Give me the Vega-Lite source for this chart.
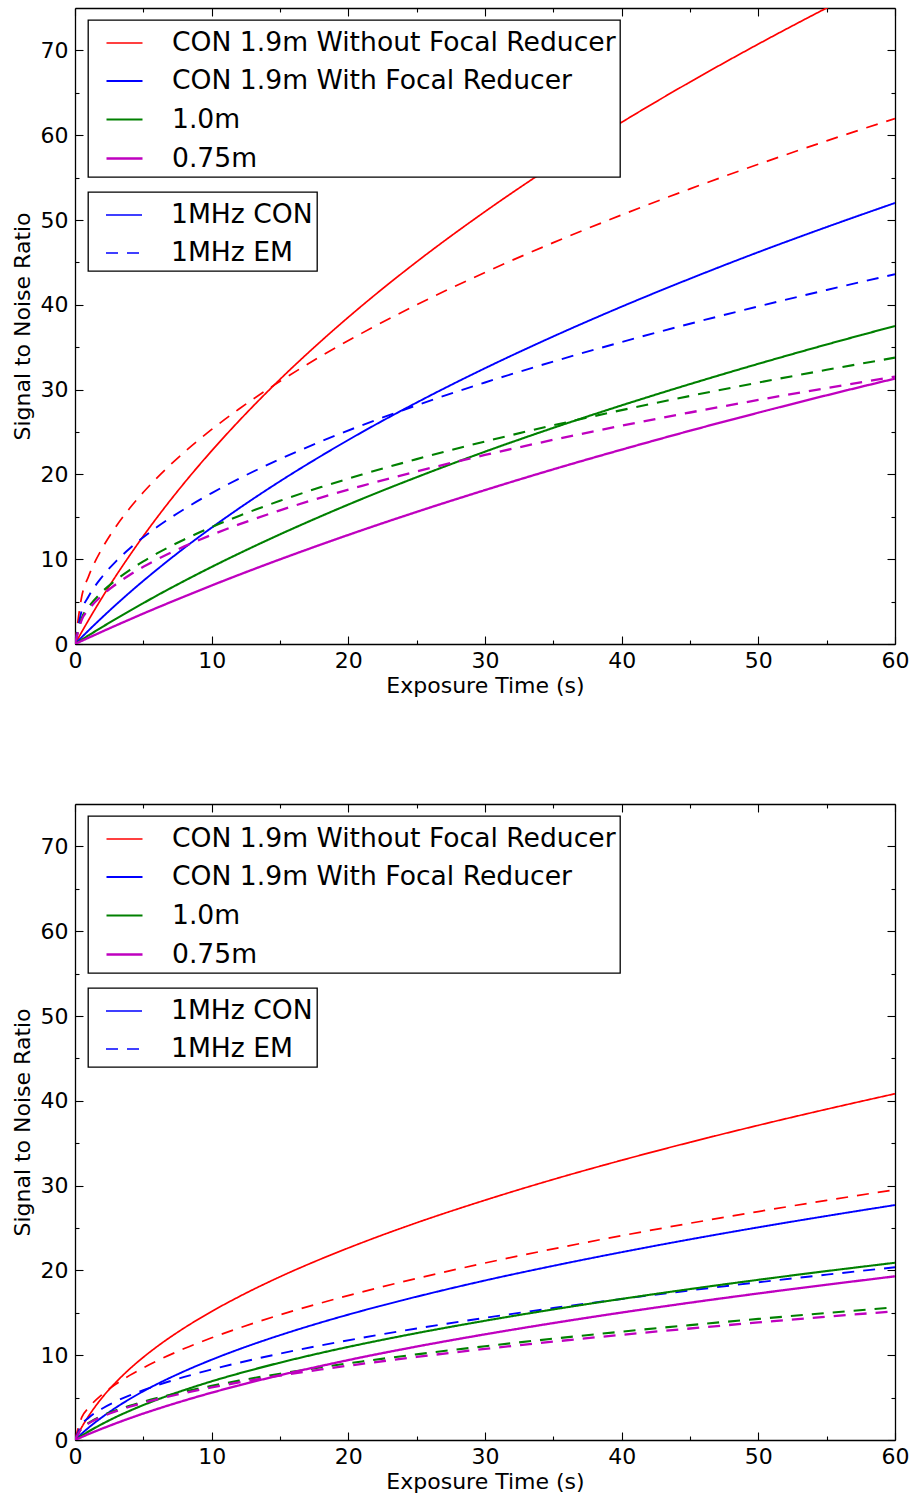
{
  "$schema": "https://vega.github.io/schema/vega-lite/v6.json",
  "autosize": {"type": "pad"},
  "padding": {"left": 11, "top": 7, "right": 17, "bottom": 5},
  "background": "#ffffff",
  "bounds": "flush",
  "spacing": 160,
  "datasets": {
    "series": [
      {"k": "rc", "tel": "CON 1.9m Without Focal Reducer", "mode": "1MHz CON"},
      {"k": "re", "tel": "CON 1.9m Without Focal Reducer", "mode": "1MHz EM"},
      {"k": "bc", "tel": "CON 1.9m With Focal Reducer", "mode": "1MHz CON"},
      {"k": "be", "tel": "CON 1.9m With Focal Reducer", "mode": "1MHz EM"},
      {"k": "gc", "tel": "1.0m", "mode": "1MHz CON"},
      {"k": "ge", "tel": "1.0m", "mode": "1MHz EM"},
      {"k": "mc", "tel": "0.75m", "mode": "1MHz CON"},
      {"k": "me", "tel": "0.75m", "mode": "1MHz EM"}
    ],
    "snr": [
      {"p": "top", "t": 0, "rc": 0, "re": 0, "bc": 0, "be": 0, "gc": 0, "ge": 0, "mc": 0, "me": 0},
      {"p": "top", "t": 0.5, "rc": 1.44, "re": 5.66, "bc": 0.81, "be": 3.98, "gc": 0.51, "ge": 3.08, "mc": 0.37, "me": 2.88},
      {"p": "top", "t": 1, "rc": 2.84, "re": 8.0, "bc": 1.61, "be": 5.63, "gc": 1.02, "ge": 4.36, "mc": 0.74, "me": 4.07},
      {"p": "top", "t": 2, "rc": 5.52, "re": 11.31, "bc": 3.15, "be": 7.96, "gc": 2.01, "ge": 6.17, "mc": 1.47, "me": 5.76},
      {"p": "top", "t": 3, "rc": 8.05, "re": 13.86, "bc": 4.64, "be": 9.75, "gc": 2.97, "ge": 7.55, "mc": 2.19, "me": 7.05},
      {"p": "top", "t": 4, "rc": 10.44, "re": 16.0, "bc": 6.07, "be": 11.26, "gc": 3.91, "ge": 8.72, "mc": 2.89, "me": 8.14},
      {"p": "top", "t": 5, "rc": 12.73, "re": 17.89, "bc": 7.45, "be": 12.59, "gc": 4.82, "ge": 9.75, "mc": 3.59, "me": 9.1},
      {"p": "top", "t": 6, "rc": 14.91, "re": 19.6, "bc": 8.78, "be": 13.79, "gc": 5.72, "ge": 10.68, "mc": 4.27, "me": 9.97},
      {"p": "top", "t": 8, "rc": 19.0, "re": 22.63, "bc": 11.33, "be": 15.92, "gc": 7.44, "ge": 12.33, "mc": 5.6, "me": 11.51},
      {"p": "top", "t": 10, "rc": 22.78, "re": 25.3, "bc": 13.72, "be": 17.8, "gc": 9.09, "ge": 13.79, "mc": 6.9, "me": 12.87},
      {"p": "top", "t": 12, "rc": 26.31, "re": 27.71, "bc": 15.99, "be": 19.5, "gc": 10.67, "ge": 15.1, "mc": 8.16, "me": 14.1},
      {"p": "top", "t": 15, "rc": 31.21, "re": 30.98, "bc": 19.19, "be": 21.8, "gc": 12.93, "ge": 16.89, "mc": 9.98, "me": 15.76},
      {"p": "top", "t": 18, "rc": 35.71, "re": 33.94, "bc": 22.17, "be": 23.89, "gc": 15.07, "ge": 18.5, "mc": 11.73, "me": 17.27},
      {"p": "top", "t": 21, "rc": 39.9, "re": 36.66, "bc": 24.98, "be": 25.8, "gc": 17.11, "ge": 19.98, "mc": 13.42, "me": 18.65},
      {"p": "top", "t": 25, "rc": 45.07, "re": 40.0, "bc": 28.47, "be": 28.15, "gc": 19.67, "ge": 21.8, "mc": 15.58, "me": 20.35},
      {"p": "top", "t": 30, "rc": 50.99, "re": 43.82, "bc": 32.52, "be": 30.84, "gc": 22.68, "ge": 23.88, "mc": 18.15, "me": 22.29},
      {"p": "top", "t": 35, "rc": 56.45, "re": 47.33, "bc": 36.27, "be": 33.31, "gc": 25.49, "ge": 25.79, "mc": 20.6, "me": 24.08},
      {"p": "top", "t": 40, "rc": 61.52, "re": 50.6, "bc": 39.78, "be": 35.61, "gc": 28.14, "ge": 27.58, "mc": 22.92, "me": 25.74},
      {"p": "top", "t": 45, "rc": 66.27, "re": 53.67, "bc": 43.08, "be": 37.77, "gc": 30.65, "ge": 29.25, "mc": 25.15, "me": 27.3},
      {"p": "top", "t": 50, "rc": 70.75, "re": 56.57, "bc": 46.21, "be": 39.81, "gc": 33.04, "ge": 30.83, "mc": 27.28, "me": 28.78},
      {"p": "top", "t": 55, "rc": 75.0, "re": 59.33, "bc": 49.17, "be": 41.75, "gc": 35.32, "ge": 32.33, "mc": 29.33, "me": 30.18},
      {"p": "top", "t": 60, "rc": 79.04, "re": 61.97, "bc": 52.01, "be": 43.61, "gc": 37.5, "ge": 33.77, "mc": 31.3, "me": 31.53},
      {"p": "bottom", "t": 0, "rc": 0, "re": 0, "bc": 0, "be": 0, "gc": 0, "ge": 0, "mc": 0, "me": 0},
      {"p": "bottom", "t": 0.5, "rc": 1.53, "re": 2.69, "bc": 0.76, "be": 1.86, "gc": 0.52, "ge": 1.43, "mc": 0.35, "me": 1.39},
      {"p": "bottom", "t": 1, "rc": 2.83, "re": 3.81, "bc": 1.46, "be": 2.63, "gc": 1.01, "ge": 2.02, "mc": 0.7, "me": 1.96},
      {"p": "bottom", "t": 2, "rc": 5.02, "re": 5.39, "bc": 2.71, "be": 3.72, "gc": 1.9, "ge": 2.86, "mc": 1.35, "me": 2.77},
      {"p": "bottom", "t": 3, "rc": 6.82, "re": 6.6, "bc": 3.83, "be": 4.56, "gc": 2.71, "ge": 3.5, "mc": 1.97, "me": 3.39},
      {"p": "bottom", "t": 4, "rc": 8.38, "re": 7.62, "bc": 4.83, "be": 5.26, "gc": 3.44, "ge": 4.04, "mc": 2.56, "me": 3.92},
      {"p": "bottom", "t": 5, "rc": 9.76, "re": 8.52, "bc": 5.75, "be": 5.88, "gc": 4.12, "ge": 4.52, "mc": 3.12, "me": 4.38},
      {"p": "bottom", "t": 6, "rc": 11.01, "re": 9.33, "bc": 6.59, "be": 6.44, "gc": 4.75, "ge": 4.95, "mc": 3.65, "me": 4.8},
      {"p": "bottom", "t": 8, "rc": 13.22, "re": 10.78, "bc": 8.11, "be": 7.44, "gc": 5.89, "ge": 5.71, "mc": 4.65, "me": 5.54},
      {"p": "bottom", "t": 10, "rc": 15.16, "re": 12.05, "bc": 9.47, "be": 8.32, "gc": 6.92, "ge": 6.39, "mc": 5.58, "me": 6.2},
      {"p": "bottom", "t": 12, "rc": 16.9, "re": 13.2, "bc": 10.7, "be": 9.11, "gc": 7.85, "ge": 7.0, "mc": 6.44, "me": 6.79},
      {"p": "bottom", "t": 15, "rc": 19.25, "re": 14.76, "bc": 12.36, "be": 10.19, "gc": 9.12, "ge": 7.82, "mc": 7.64, "me": 7.59},
      {"p": "bottom", "t": 18, "rc": 21.35, "re": 16.16, "bc": 13.86, "be": 11.16, "gc": 10.27, "ge": 8.57, "mc": 8.73, "me": 8.32},
      {"p": "bottom", "t": 21, "rc": 23.27, "re": 17.46, "bc": 15.23, "be": 12.05, "gc": 11.32, "ge": 9.26, "mc": 9.76, "me": 8.98},
      {"p": "bottom", "t": 25, "rc": 25.62, "re": 19.05, "bc": 16.9, "be": 13.15, "gc": 12.6, "ge": 10.1, "mc": 11.02, "me": 9.8},
      {"p": "bottom", "t": 30, "rc": 28.28, "re": 20.87, "bc": 18.81, "be": 14.4, "gc": 14.06, "ge": 11.06, "mc": 12.46, "me": 10.74},
      {"p": "bottom", "t": 35, "rc": 30.73, "re": 22.54, "bc": 20.54, "be": 15.56, "gc": 15.4, "ge": 11.95, "mc": 13.79, "me": 11.6},
      {"p": "bottom", "t": 40, "rc": 32.99, "re": 24.1, "bc": 22.15, "be": 16.63, "gc": 16.64, "ge": 12.78, "mc": 15.03, "me": 12.4},
      {"p": "bottom", "t": 45, "rc": 35.11, "re": 25.56, "bc": 23.66, "be": 17.64, "gc": 17.8, "ge": 13.55, "mc": 16.19, "me": 13.15},
      {"p": "bottom", "t": 50, "rc": 37.11, "re": 26.94, "bc": 25.08, "be": 18.6, "gc": 18.89, "ge": 14.28, "mc": 17.28, "me": 13.86},
      {"p": "bottom", "t": 55, "rc": 39.01, "re": 28.26, "bc": 26.42, "be": 19.5, "gc": 19.92, "ge": 14.98, "mc": 18.31, "me": 14.54},
      {"p": "bottom", "t": 60, "rc": 40.83, "re": 29.51, "bc": 27.71, "be": 20.37, "gc": 20.9, "ge": 15.65, "mc": 19.3, "me": 15.18}
    ]
  },
  "vconcat": [
    {
      "width": 820,
      "height": 636,
      "data": {"name": "snr"},
      "transform": [
        {"filter": {"field": "p", "equal": "top"}},
        {"fold": ["rc", "re", "bc", "be", "gc", "ge", "mc", "me"], "as": ["k", "v"]},
        {"lookup": "k", "from": {"data": {"name": "series"}, "key": "k", "fields": ["tel", "mode"]}}
      ],
      "layer": [
        {
          "mark": {"type": "line", "clip": true, "interpolate": "monotone"},
          "encoding": {
            "x": {"field": "t", "type": "quantitative", "scale": {"domain": [0, 60], "nice": false},
              "axis": {"orient": "bottom", "title": "Exposure Time (s)", "values": [0, 5, 10, 15, 20, 25, 30, 35, 40, 45, 50, 55, 60],
                "labelExpr": "datum.value % 10 === 0 ? datum.label : ''",
                "tickSize": {"condition": {"test": "datum.value % 10 === 0", "value": -8}, "value": -4},
                "labelPadding": 14, "titlePadding": 0}},
            "y": {"field": "v", "type": "quantitative", "scale": {"domain": [0, 75], "nice": false},
              "axis": {"orient": "left", "title": "Signal to Noise Ratio", "values": [0, 5, 10, 15, 20, 25, 30, 35, 40, 45, 50, 55, 60, 65, 70],
                "labelExpr": "datum.value % 10 === 0 ? datum.label : ''",
                "tickSize": {"condition": {"test": "datum.value % 10 === 0", "value": -8}, "value": -4},
                "labelPadding": 15, "titlePadding": 6}},
            "color": {"field": "tel", "type": "nominal",
              "scale": {"domain": ["CON 1.9m Without Focal Reducer", "CON 1.9m With Focal Reducer", "1.0m", "0.75m"], "range": ["#ff0000", "#0000ff", "#008000", "#bf00bf"]},
              "legend": {"title": null, "orient": "none", "legendX": 13, "legendY": 12}},
            "strokeDash": {"field": "mode", "type": "nominal",
              "scale": {"domain": ["1MHz CON", "1MHz EM"], "range": [[1, 0], [12, 9]]},
              "legend": {"title": null, "orient": "none", "legendX": 13, "legendY": 184, "symbolStrokeColor": "#0000ff"}},
            "strokeWidth": {"field": "tel", "type": "nominal",
              "scale": {"domain": ["CON 1.9m Without Focal Reducer", "CON 1.9m With Focal Reducer", "1.0m", "0.75m"], "range": [1.7, 2.3, 1.7, 1.7]},
              "legend": null}
          }
        },
        {
          "mark": {"type": "point", "opacity": 0, "clip": true},
          "encoding": {
            "x": {"field": "t", "type": "quantitative", "scale": {"domain": [0, 60], "nice": false},
              "axis": {"orient": "top", "title": null, "labels": false, "values": [0, 5, 10, 15, 20, 25, 30, 35, 40, 45, 50, 55, 60],
                "tickSize": {"condition": {"test": "datum.value % 10 === 0", "value": -8}, "value": -4}}},
            "y": {"field": "v", "type": "quantitative", "scale": {"domain": [0, 75], "nice": false},
              "axis": {"orient": "right", "title": null, "labels": false, "values": [0, 5, 10, 15, 20, 25, 30, 35, 40, 45, 50, 55, 60, 65, 70],
                "tickSize": {"condition": {"test": "datum.value % 10 === 0", "value": -8}, "value": -4}}}
          }
        }
      ],
      "resolve": {"axis": {"x": "independent", "y": "independent"}}
    },
    {
      "width": 820,
      "height": 636,
      "data": {"name": "snr"},
      "transform": [
        {"filter": {"field": "p", "equal": "bottom"}},
        {"fold": ["rc", "re", "bc", "be", "gc", "ge", "mc", "me"], "as": ["k", "v"]},
        {"lookup": "k", "from": {"data": {"name": "series"}, "key": "k", "fields": ["tel", "mode"]}}
      ],
      "layer": [
        {
          "mark": {"type": "line", "clip": true, "interpolate": "monotone"},
          "encoding": {
            "x": {"field": "t", "type": "quantitative", "scale": {"domain": [0, 60], "nice": false},
              "axis": {"orient": "bottom", "title": "Exposure Time (s)", "values": [0, 5, 10, 15, 20, 25, 30, 35, 40, 45, 50, 55, 60],
                "labelExpr": "datum.value % 10 === 0 ? datum.label : ''",
                "tickSize": {"condition": {"test": "datum.value % 10 === 0", "value": -8}, "value": -4},
                "labelPadding": 14, "titlePadding": 0}},
            "y": {"field": "v", "type": "quantitative", "scale": {"domain": [0, 75], "nice": false},
              "axis": {"orient": "left", "title": "Signal to Noise Ratio", "values": [0, 5, 10, 15, 20, 25, 30, 35, 40, 45, 50, 55, 60, 65, 70],
                "labelExpr": "datum.value % 10 === 0 ? datum.label : ''",
                "tickSize": {"condition": {"test": "datum.value % 10 === 0", "value": -8}, "value": -4},
                "labelPadding": 15, "titlePadding": 6}},
            "color": {"field": "tel", "type": "nominal",
              "scale": {"domain": ["CON 1.9m Without Focal Reducer", "CON 1.9m With Focal Reducer", "1.0m", "0.75m"], "range": ["#ff0000", "#0000ff", "#008000", "#bf00bf"]},
              "legend": {"title": null, "orient": "none", "legendX": 13, "legendY": 12}},
            "strokeDash": {"field": "mode", "type": "nominal",
              "scale": {"domain": ["1MHz CON", "1MHz EM"], "range": [[1, 0], [12, 9]]},
              "legend": {"title": null, "orient": "none", "legendX": 13, "legendY": 184, "symbolStrokeColor": "#0000ff"}},
            "strokeWidth": {"field": "tel", "type": "nominal",
              "scale": {"domain": ["CON 1.9m Without Focal Reducer", "CON 1.9m With Focal Reducer", "1.0m", "0.75m"], "range": [1.7, 2.3, 1.7, 1.7]},
              "legend": null}
          }
        },
        {
          "mark": {"type": "point", "opacity": 0, "clip": true},
          "encoding": {
            "x": {"field": "t", "type": "quantitative", "scale": {"domain": [0, 60], "nice": false},
              "axis": {"orient": "top", "title": null, "labels": false, "values": [0, 5, 10, 15, 20, 25, 30, 35, 40, 45, 50, 55, 60],
                "tickSize": {"condition": {"test": "datum.value % 10 === 0", "value": -8}, "value": -4}}},
            "y": {"field": "v", "type": "quantitative", "scale": {"domain": [0, 75], "nice": false},
              "axis": {"orient": "right", "title": null, "labels": false, "values": [0, 5, 10, 15, 20, 25, 30, 35, 40, 45, 50, 55, 60, 65, 70],
                "tickSize": {"condition": {"test": "datum.value % 10 === 0", "value": -8}, "value": -4}}}
          }
        }
      ],
      "resolve": {"axis": {"x": "independent", "y": "independent"}}
    }
  ],
  "resolve": {"scale": {"color": "independent", "strokeDash": "independent", "strokeWidth": "independent"}},
  "config": {
    "view": {"stroke": null},
    "font": "DejaVu Sans",
    "axis": {
      "domainColor": "#000000", "domainWidth": 1.3, "tickColor": "#000000", "tickWidth": 1.1,
      "labelColor": "#000000", "labelFont": "DejaVu Sans", "labelFontSize": 22,
      "titleFont": "DejaVu Sans", "titleFontSize": 22, "titleFontWeight": "normal", "titleColor": "#000000",
      "grid": false, "labelFlush": false, "labelOverlap": false, "labelBound": false
    },
    "legend": {
      "strokeColor": "#000000", "strokeWidth": 1.3, "fillColor": "#ffffff", "padding": 4, "rowPadding": 5, "cornerRadius": 0,
      "symbolType": "stroke", "symbolSize": 1296, "symbolStrokeWidth": 1.6, "symbolOffset": 13,
      "labelFont": "DejaVu Sans", "labelFontSize": 26.6, "labelColor": "#000000", "labelOffset": 28, "labelLimit": 1000
    }
  }
}
